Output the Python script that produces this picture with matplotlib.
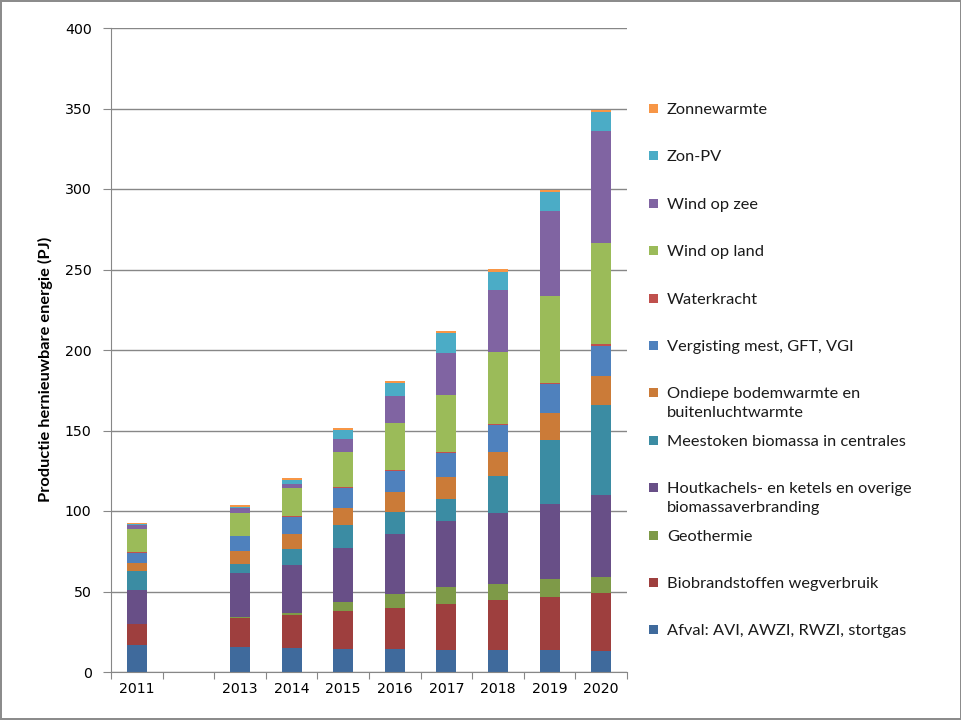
#Stacked bars: renewable energy production in NL per source
import numpy as np
import matplotlib.pyplot as plt
from matplotlib.patches import Rectangle

year_labels = ['2011', '', '2013', '2014', '2015', '2016', '2017', '2018', '2019', '2020']

#series, bottom to top (2012 has no data)
afval       = [16.6, 0, 15.5, 15.1, 14.5, 14.5, 13.9, 13.9, 13.5, 12.8]
biobrand    = [13.0, 0, 18.2, 20.2, 23.4, 25.3, 28.3, 30.8, 33.1, 36.1]
geothermie  = [0.5, 0, 0.3, 1.1, 5.6, 8.6, 10.4, 10.2, 11.0, 10.3]
houtkachels = [20.8, 0, 27.4, 30.3, 33.7, 37.3, 41.0, 44.1, 46.7, 50.5]
meestoken   = [11.8, 0, 5.7, 9.7, 13.9, 13.9, 13.6, 22.7, 40.0, 55.9]
ondiepe     = [4.8, 0, 8.3, 9.3, 10.8, 12.0, 13.9, 14.9, 16.6, 18.3]
vergisting  = [6.6, 0, 8.9, 10.6, 12.4, 13.2, 14.7, 16.6, 17.8, 18.8]
waterkracht = [0.5, 0, 0.4, 0.6, 0.6, 0.9, 0.8, 0.8, 0.8, 1.2]
wind_land   = [14.2, 0, 13.9, 17.1, 22.0, 29.2, 35.7, 45.0, 54.0, 62.8]
wind_zee    = [2.7, 0, 3.0, 2.7, 7.6, 16.3, 26.0, 38.3, 53.0, 69.3]
zon_pv      = [0.5, 0, 1.1, 2.5, 5.6, 8.3, 12.1, 11.3, 11.8, 11.8]
zonnewarmte = [0.8, 0, 1.0, 1.0, 1.2, 1.0, 1.2, 1.5, 1.1, 1.2]

series_names = ['Afval: AVI, AWZI, RWZI, stortgas', 'Biobrandstoffen wegverbruik', 'Geothermie',
                'Houtkachels- en ketels en overige\nbiomassaverbranding', 'Meestoken biomassa in centrales',
                'Ondiepe bodemwarmte en\nbuitenluchtwarmte', 'Vergisting mest, GFT, VGI', 'Waterkracht',
                'Wind op land', 'Wind op zee', 'Zon-PV', 'Zonnewarmte']
series_vals = [afval, biobrand, geothermie, houtkachels, meestoken, ondiepe, vergisting,
               waterkracht, wind_land, wind_zee, zon_pv, zonnewarmte]
colors = ['#3F6A9C', '#9E3F3E', '#7E9A48', '#684F87', '#3B8CA3', '#CB7B38',
          '#4F81BD', '#C0504D', '#9BBB59', '#8064A2', '#4BACC6', '#F79646']

W, H = 962, 720
fig = plt.figure(figsize=(W/100, H/100), dpi=100)
fig.patch.set_edgecolor('#8c8c8c')
fig.patch.set_linewidth(1.5)
ax = fig.add_axes([111/W, 1-672/H, (627-111)/W, (672-28)/H])

x = np.arange(len(year_labels))
bottom = np.zeros(len(x))
for name, col, vals in zip(series_names, colors, series_vals):
	vals = np.array(vals, dtype=float)
	ax.bar(x, vals, 0.39, bottom=bottom, color=col, label=name)
	bottom += vals

gray = '#878787'
ax.set_xlim(-0.5, len(x)-0.5)
ax.set_ylim(0, 400)
ax.set_yticks(range(0, 401, 50))
ax.grid(axis='y', color=gray, lw=1)
ax.set_axisbelow(True)
for s in ['top', 'right']:
	ax.spines[s].set_visible(False)
for s in ['left', 'bottom']:
	ax.spines[s].set_color(gray)
ax.set_xticks(np.arange(-0.5, len(x)), labels=['']*(len(x)+1))
ax.set_xticks(x, labels=year_labels, minor=True)
ax.tick_params(axis='x', which='major', length=5, color=gray)
ax.tick_params(axis='x', which='minor', length=0, pad=7, labelsize=10.2)
ax.tick_params(axis='y', length=6, color=gray, labelsize=10.2, pad=8)
ax.set_ylabel('Productie hernieuwbare energie (PJ)', family='Lato', fontweight='bold', fontsize=11.8)
ax.yaxis.set_label_coords(-0.112, 0.47)

#legend drawn by hand, top entry = last series
for i, (name, col) in enumerate(zip(series_names[::-1], colors[::-1])):
	py = 108 + i*47.4
	fig.patches.append(Rectangle((649/W, 1-(py+5)/H), 9/W, 9/H, transform=fig.transFigure,
	                             facecolor=col, edgecolor='none'))
	fig.text(667/W, 1-(py-5)/H, name, family='Lato', fontsize=11.8, va='top', ha='left',
	         linespacing=1.42, color='#1a1a1a')

plt.savefig('out.png', dpi=100)
